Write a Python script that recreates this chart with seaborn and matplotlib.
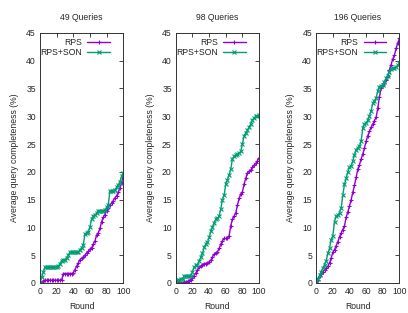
import matplotlib
matplotlib.use("Agg")
import matplotlib.pyplot as plt
import seaborn as sns
import pandas as pd

rounds = list(range(0, 101, 2))

rps_49 = [0, 0.1, 0.3, 0.5, 0.5, 0.5, 0.5, 0.5, 0.5, 0.5, 0.5, 0.5, 0.5, 0.5, 1.7, 1.7, 1.7, 1.7, 1.7, 1.7,
          1.8, 2.4, 3.0, 3.6, 4.2, 4.4, 4.6, 5.0, 5.4, 5.7, 6.1, 6.3, 7.0, 7.5, 8.6, 9.0, 9.8, 11.0, 11.8, 12.3,
          13.0, 13.5, 14.0, 14.4, 14.8, 15.3, 15.7, 16.3, 17.0, 18.0, 19.2]
son_49 = [0, 1.0, 2.0, 2.8, 2.8, 2.8, 2.8, 2.8, 2.8, 2.8, 2.8, 3.0, 3.5, 4.0, 4.1, 4.1, 4.5, 5.0, 5.5, 5.5,
          5.5, 5.5, 5.5, 5.5, 6.0, 6.3, 6.8, 8.8, 9.0, 9.2, 10.0, 11.5, 12.0, 12.3, 12.5, 13.0, 13.0, 13.0, 13.0, 13.2,
          13.6, 14.0, 16.5, 16.5, 16.6, 16.8, 17.2, 17.6, 18.2, 19.2, 19.8]
rps_98 = [0, 0, 0, 0, 0, 0.1, 0.2, 0.3, 0.4, 0.6, 0.9, 1.3, 1.8, 2.3, 2.8, 3.0, 3.3, 3.5, 3.5, 3.6,
          3.8, 4.1, 4.7, 5.2, 5.4, 5.6, 6.2, 7.0, 7.6, 8.0, 8.0, 8.0, 8.5, 10.3, 11.5, 12.0, 12.6, 14.0, 15.2, 16.0,
          16.4, 17.8, 18.8, 19.8, 20.1, 20.3, 20.8, 21.2, 21.5, 22.0, 22.5]
son_98 = [0, 0.5, 0.6, 0.7, 0.8, 1.2, 1.2, 1.2, 1.2, 1.3, 2.0, 2.8, 3.2, 3.3, 4.0, 4.6, 5.3, 6.4, 7.0, 7.3,
          8.2, 9.3, 10.0, 10.8, 11.5, 11.6, 12.0, 13.3, 15.0, 15.8, 17.8, 18.6, 19.4, 20.5, 22.3, 22.8, 23.0, 23.2, 23.3, 23.7,
          25.0, 26.5, 27.0, 27.5, 28.0, 28.6, 29.3, 29.7, 30.0, 30.1, 30.2]
rps_196 = [0, 0.6, 1.2, 1.7, 2.0, 2.3, 2.7, 3.0, 3.6, 4.5, 5.5, 6.0, 6.7, 7.4, 8.3, 9.0, 9.6, 10.3, 11.8, 12.8,
           13.8, 15.0, 16.3, 17.6, 19.0, 20.5, 21.3, 22.3, 23.2, 24.3, 25.5, 26.5, 27.3, 28.0, 28.6, 29.2, 29.8, 31.5, 33.5, 35.0,
           35.6, 36.0, 36.6, 37.3, 38.3, 39.3, 40.3, 41.0, 42.2, 43.2, 44.0]
son_196 = [0, 0.7, 1.4, 2.0, 2.7, 3.3, 4.0, 5.3, 6.2, 7.8, 8.5, 11.0, 12.0, 12.2, 12.6, 13.5, 15.8, 17.8, 18.8, 20.0,
           20.8, 21.0, 22.0, 23.0, 24.0, 24.3, 24.6, 25.6, 27.8, 28.6, 28.8, 29.3, 30.0, 31.0, 32.3, 32.8, 33.3, 34.5, 35.3, 35.5,
           35.7, 36.2, 36.8, 37.3, 38.0, 38.5, 38.6, 38.7, 38.9, 39.2, 39.5]

titles = ["49 Queries", "98 Queries", "196 Queries"]
series = [(rps_49, son_49), (rps_98, son_98), (rps_196, son_196)]
lefts = [0.098, 0.431, 0.775]

sns.set_style("white")
plt.rcParams["font.family"] = ["Liberation Sans", "DejaVu Sans"]
fig = plt.figure(figsize=(4.08, 3.13), dpi=100)

palette = {"RPS": "#9400d3", "RPS+SON": "#009e73"}
markers = {"RPS": "+", "RPS+SON": "x"}
fs = 6.2

for i in range(3):
    ax = fig.add_axes([lefts[i], 0.096, 0.204, 0.799])
    rps, son = series[i]
    df = pd.DataFrame({
        "Round": rounds + rounds,
        "value": rps + son,
        "method": ["RPS"] * len(rounds) + ["RPS+SON"] * len(rounds),
    })
    sns.lineplot(data=df, x="Round", y="value", hue="method", style="method",
                 palette=palette, markers=markers, dashes=False, lw=1.0,
                 markersize=3, markeredgewidth=0.8, ax=ax, legend=False)
    # seaborn paints marker edges white; give them the line colour instead
    for ln in ax.lines:
        ln.set_markeredgecolor(ln.get_color())
    ax.set_xlim(0, 100)
    ax.set_ylim(0, 45)
    ax.set_xticks([0, 20, 40, 60, 80, 100])
    ax.set_yticks(range(0, 46, 5))
    ax.tick_params(direction="in", top=True, right=True, labelsize=fs,
                   length=3, width=0.6, pad=3)
    for s in ax.spines.values():
        s.set_linewidth(0.7)
        s.set_color("#333333")
    ax.set_title(titles[i], fontsize=fs, pad=9)
    ax.set_xlabel("Round", fontsize=fs, labelpad=4)
    ax.set_ylabel("Average query completeness (%)", fontsize=fs, labelpad=5)
    ax.legend(ax.lines[:2], ["RPS", "RPS+SON"], loc="upper right",
              bbox_to_anchor=(0.9, 1.0), frameon=False,
              markerfirst=False, fontsize=fs, handlelength=2.6, borderaxespad=0.2,
              labelspacing=0.15, handletextpad=0.6)

plt.savefig("out.png", dpi=100)
